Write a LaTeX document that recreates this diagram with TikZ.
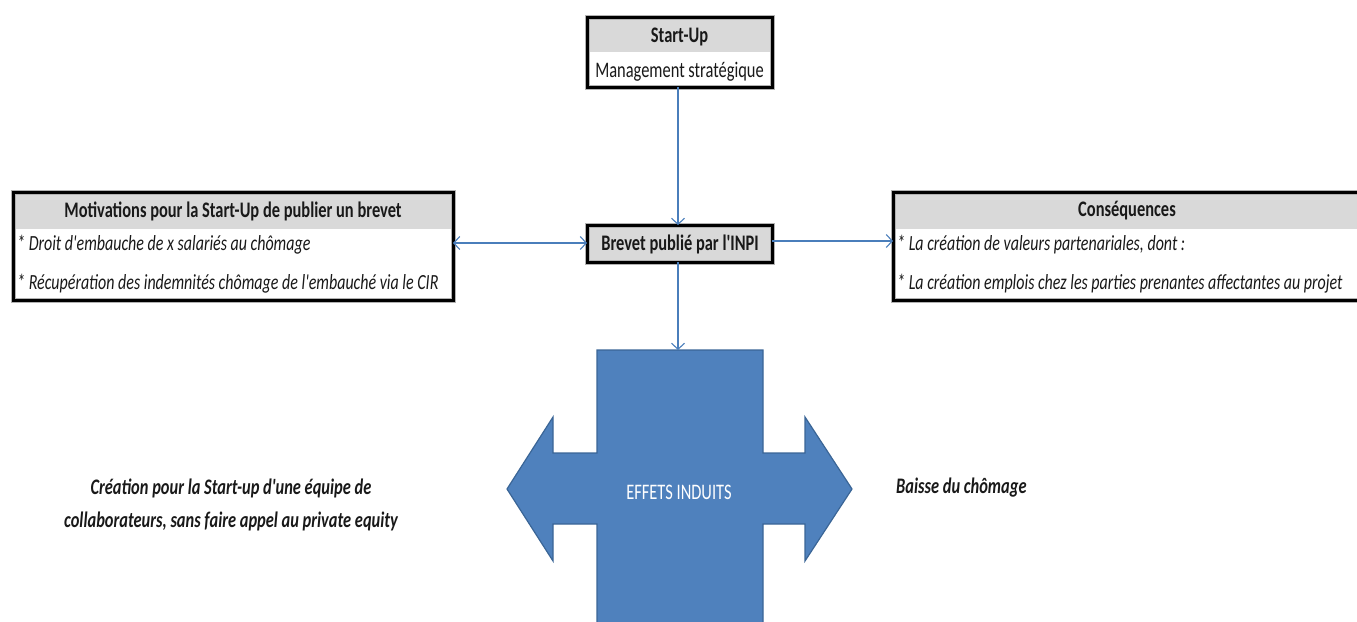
\documentclass[tikz,border=0pt]{standalone}
\usepackage{fontspec}
\setmainfont{Carlito}[Ligatures=TeXOff]
\usetikzlibrary{arrows.meta}
\definecolor{hdr}{HTML}{D9D9D9}
\definecolor{blu}{HTML}{4F81BD}
\definecolor{bluD}{HTML}{3A6596}
\definecolor{arr}{HTML}{4A7EBB}
\newcommand\sq[1]{\scalebox{0.74}[1]{#1}}
\tikzset{
  frame/.style={draw=black, line width=3pt},
  halo/.style={draw=black!30, line width=5pt},
  hd/.style={font=\fontsize{22.2}{22}\selectfont\bfseries, inner sep=0pt, text=black!90},
  it/.style={font=\fontsize{21.6}{22}\selectfont\itshape, inner sep=0pt, anchor=west, text=black!90},
  rg/.style={font=\fontsize{22.2}{22}\selectfont, inner sep=0pt, text=black!90},
  bi/.style={font=\fontsize{22.2}{22}\selectfont\bfseries\itshape, inner sep=0pt, text=black!90},
  conn/.style={draw=arr, line width=1.2pt, >={Straight Barb[length=6pt,width=13pt,line width=1.1pt]}},
}
\begin{document}
\begin{tikzpicture}[x=1pt,y=-1pt]
\useasboundingbox (0,0) rectangle (1357,621);
% Start-Up box
\fill[hdr] (587,17) rectangle (772,52);
\fill[white] (587,52) rectangle (772,87);
\draw[halo] (587,17) rectangle (772,87);
\draw[frame] (587,17) rectangle (772,87);
\node[hd] (su) at (679.5,37) {\sq{Start-Up}};
\node[rg] (ms) at (679.5,72) {\sq{Management stratégique}};
\coordinate (sub) at (678,87);
% Left box
\fill[hdr] (13,192) rectangle (453,229);
\fill[white] (13,229) rectangle (453,300);
\draw[halo] (13,192) rectangle (453,300);
\draw[frame] (13,192) rectangle (453,300);
\node[hd] (mot) at (233,211) {\sq{Motivations pour la Start-Up de publier un brevet}};
\node[it] (m1) at (17,245) {\sq{* Droit d'embauche de x salariés au chômage}};
\node[it] (m2) at (17,284) {\sq{* Récupération des indemnités chômage de l'embauché via le CIR}};
\coordinate (lbr) at (453,243);
% Right box
\fill[hdr] (893,192) rectangle (1362,229);
\fill[white] (893,229) rectangle (1362,300);
\draw[halo] (893,192) rectangle (1362,300);
\draw[frame] (893,192) rectangle (1362,300);
\node[hd] (cons) at (1127,211) {\sq{Conséquences}};
\node[it] (c1) at (897,245) {\sq{* La création de valeurs partenariales, dont :}};
\node[it] (c2) at (897,284) {\sq{* La création emplois chez les parties prenantes affectantes au projet}};
\coordinate (rbl) at (893,241);
% Brevet box
\fill[hdr] (587,225) rectangle (772,262);
\draw[halo] (587,225) rectangle (772,262);
\draw[frame] (587,225) rectangle (772,262);
\node[hd] (brv) at (680,244) {\sq{Brevet publié par l'INPI}};
\coordinate (brt) at (678,225);
\coordinate (brb) at (678,262);
\coordinate (brl) at (587,243);
\coordinate (brr) at (772,241);
% Cross arrow
\draw[fill=blu, draw=bluD, line width=1.2pt, line join=miter]
  (597,350) -- (763,350) -- (763,453) -- (805,453) -- (805,417) -- (852,489)
  -- (805,561) -- (805,524) -- (763,524) -- (763,625) -- (597,625) -- (597,524)
  -- (553,524) -- (553,561) -- (507,489) -- (553,417) -- (553,453) -- (597,453) -- cycle;
\node[font=\fontsize{22.2}{22}\selectfont, inner sep=0pt, text=white] (eff) at (679,492) {\sq{EFFETS INDUITS}};
\coordinate (crt) at (678,350);
% Connectors
\draw[conn, ->] (sub) -- (brt);
\draw[conn, <->] (lbr) -- (brl);
\draw[conn, ->] (brr) -- (rbl);
\draw[conn, ->] (brb) -- (crt);
% Side texts
\node[bi] (cr1) at (231,488) {\sq{Création pour la Start-up d'une équipe de}};
\node[bi] (cr2) at (231,521) {\sq{collaborateurs, sans faire appel au private equity}};
\node[bi, anchor=west] (bc) at (896,488) {\sq{Baisse du chômage}};
\end{tikzpicture}
\end{document}
